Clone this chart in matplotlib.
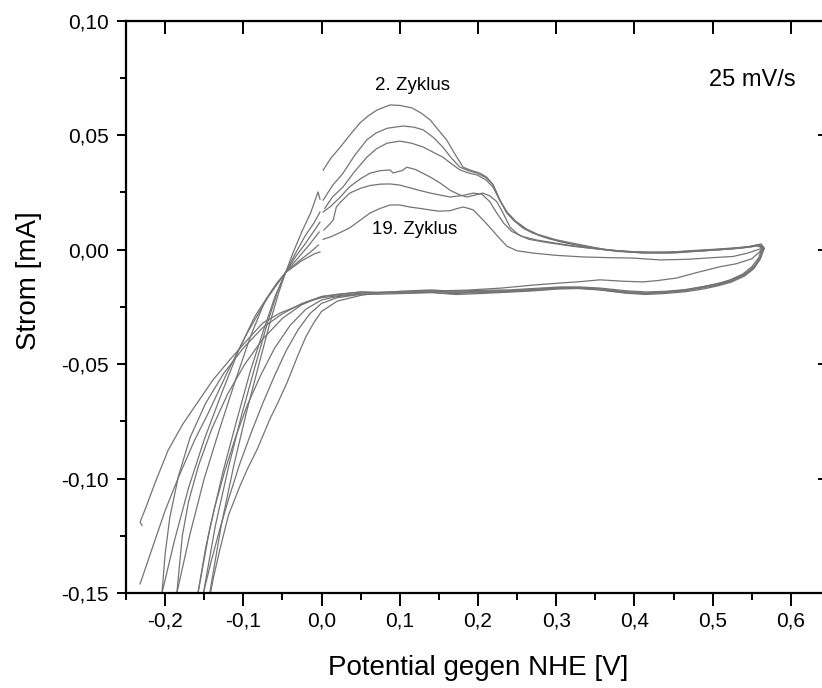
import matplotlib
matplotlib.use("Agg")
import matplotlib.pyplot as plt
from matplotlib.ticker import MultipleLocator, FuncFormatter

plt.rcParams['font.family'] = ['Liberation Sans', 'DejaVu Sans']

# anodic sweep, lower part (from negative limit up to ~0 V), cycles 1..6
al1_x = [-0.143, -0.128, -0.112, -0.096, -0.080, -0.066, -0.055, -0.046, -0.036, -0.025, -0.014, -0.0045, -0.002]
al1_y = [-0.150, -0.120, -0.094, -0.071, -0.050, -0.032, -0.019, -0.010, -0.001, 0.008, 0.016, 0.0252, 0.022]
al2_x = [-0.151, -0.136, -0.119, -0.102, -0.085, -0.070, -0.057, -0.046, -0.034, -0.021, -0.010, -0.002]
al2_y = [-0.150, -0.121, -0.095, -0.072, -0.051, -0.033, -0.019, -0.010, -0.002, 0.006, 0.0115, 0.0164]
al3_x = [-0.158, -0.143, -0.126, -0.108, -0.091, -0.074, -0.059, -0.046, -0.033, -0.020, -0.010, -0.002]
al3_y = [-0.150, -0.122, -0.097, -0.074, -0.053, -0.035, -0.020, -0.010, -0.003, 0.003, 0.008, 0.012]
al4_x = [-0.185, -0.168, -0.150, -0.130, -0.110, -0.091, -0.073, -0.058, -0.046, -0.031, -0.016, -0.003]
al4_y = [-0.150, -0.124, -0.100, -0.078, -0.057, -0.038, -0.023, -0.015, -0.010, -0.004, 0.002, 0.0077]
al5_x = [-0.204, -0.188, -0.170, -0.150, -0.128, -0.106, -0.085, -0.064, -0.046, -0.029, -0.014, -0.004]
al5_y = [-0.150, -0.127, -0.104, -0.083, -0.063, -0.044, -0.029, -0.018, -0.010, -0.005, -0.001, 0.002]
al6_x = [-0.232, -0.217, -0.200, -0.183, -0.162, -0.145, -0.121, -0.096, -0.069, -0.046, -0.026, -0.010, -0.002]
al6_y = [-0.146, -0.131, -0.114, -0.0995, -0.083, -0.0715, -0.054, -0.037, -0.021, -0.010, -0.005, -0.002, -0.001]

# anodic sweep, upper part (0 V up to the turning point)
ar1_x = [0.002, 0.012, 0.024, 0.036, 0.049, 0.060, 0.071, 0.0875, 0.100, 0.1157, 0.128, 0.139, 0.150, 0.160, 0.170,
         0.181, 0.192, 0.2025, 0.211, 0.219, 0.228, 0.236, 0.245, 0.257, 0.270, 0.290, 0.314, 0.345, 0.378, 0.410,
         0.441, 0.475, 0.505, 0.530, 0.548, 0.558, 0.565]
ar1_y = [0.0347, 0.040, 0.0448, 0.050, 0.0553, 0.0585, 0.061, 0.0632, 0.063, 0.0619, 0.0595, 0.0566, 0.052, 0.0479, 0.042,
         0.036, 0.0345, 0.0334, 0.0317, 0.0285, 0.0217, 0.0165, 0.013, 0.0095, 0.0072, 0.0048, 0.0029, 0.0008, -0.0008, -0.0013,
         -0.0012, -0.0004, 0.0002, 0.0008, 0.0014, 0.0022, 0.0010]
ar2_x = [0.002, 0.014, 0.0275, 0.042, 0.058, 0.070, 0.0837, 0.104, 0.118, 0.130, 0.143, 0.155, 0.166, 0.177, 0.188,
         0.199, 0.210, 0.219, 0.228, 0.237, 0.247, 0.260, 0.275, 0.300, 0.330, 0.360, 0.400, 0.440, 0.480, 0.510,
         0.535, 0.552, 0.562, 0.566]
ar2_y = [0.0216, 0.028, 0.0334, 0.041, 0.048, 0.051, 0.053, 0.054, 0.0535, 0.0523, 0.049, 0.0448, 0.040, 0.036, 0.0345,
         0.0334, 0.0315, 0.0285, 0.0215, 0.016, 0.0125, 0.0092, 0.0068, 0.0043, 0.0022, 0.0002, -0.0012, -0.0014, -0.0006, 0.0,
         0.0006, 0.0016, 0.0025, 0.0005]
ar3_x = [0.004, 0.014, 0.0275, 0.042, 0.058, 0.070, 0.0837, 0.100, 0.115, 0.130, 0.143, 0.155, 0.166, 0.177, 0.188,
         0.199, 0.210, 0.219, 0.228, 0.237, 0.248, 0.262, 0.280, 0.305, 0.335, 0.370, 0.410, 0.450, 0.490, 0.520,
         0.545, 0.560, 0.564]
ar3_y = [0.0180, 0.023, 0.0274, 0.034, 0.0404, 0.0440, 0.0465, 0.0474, 0.0465, 0.0448, 0.0425, 0.0404, 0.0375, 0.0348, 0.0335,
         0.0326, 0.0305, 0.0274, 0.0215, 0.0165, 0.0125, 0.009, 0.006, 0.0035, 0.0015, -0.0003, -0.0015, -0.0015, -0.0005, 0.0003,
         0.0010, 0.0018, 0.0]
ar4_x = [0.002, 0.012, 0.024, 0.036, 0.050, 0.062, 0.075, 0.0875, 0.0914, 0.097, 0.103, 0.109, 0.120, 0.139, 0.152,
         0.164, 0.176, 0.186, 0.196, 0.206, 0.215, 0.224, 0.232, 0.241, 0.252, 0.265, 0.290, 0.320, 0.360, 0.400,
         0.440, 0.480, 0.515, 0.540, 0.556, 0.563]
ar4_y = [0.0164, 0.019, 0.023, 0.0275, 0.0310, 0.0334, 0.0345, 0.0348, 0.0335, 0.0340, 0.0345, 0.0360, 0.0350, 0.0317, 0.0290,
         0.0260, 0.0240, 0.0230, 0.0238, 0.0247, 0.0235, 0.0210, 0.0160, 0.0098, 0.0065, 0.0045, 0.0030, 0.0015, 0.0, -0.0010,
         -0.0012, -0.0005, 0.0003, 0.0010, 0.0018, 0.0008]
ar5_x = [0.003, 0.010, 0.015, 0.017, 0.019, 0.025, 0.036, 0.050, 0.062, 0.075, 0.0875, 0.100, 0.113, 0.126, 0.139,
         0.152, 0.164, 0.180, 0.194, 0.205, 0.215, 0.224, 0.233, 0.243, 0.256, 0.275, 0.300, 0.335, 0.375, 0.420,
         0.460, 0.500, 0.530, 0.550, 0.562, 0.565]
ar5_y = [0.0086, 0.011, 0.0130, 0.0160, 0.0187, 0.021, 0.0247, 0.0268, 0.0280, 0.0286, 0.0287, 0.0282, 0.027, 0.0258, 0.0247,
         0.0238, 0.0230, 0.0236, 0.0247, 0.0242, 0.0210, 0.0160, 0.0115, 0.0080, 0.0058, 0.0042, 0.0028, 0.0010, -0.0005, -0.0012,
         -0.0010, -0.0003, 0.0005, 0.0013, 0.0020, 0.0]
ar6_x = [0.002, 0.011, 0.024, 0.036, 0.050, 0.062, 0.075, 0.0875, 0.100, 0.113, 0.126, 0.139, 0.150, 0.164, 0.174,
         0.181, 0.188, 0.194, 0.205, 0.215, 0.226, 0.237, 0.250, 0.270, 0.300, 0.334, 0.366, 0.398, 0.433, 0.470,
         0.500, 0.526, 0.545, 0.558, 0.563]
ar6_y = [0.0045, 0.0055, 0.0075, 0.0095, 0.013, 0.016, 0.018, 0.0195, 0.0195, 0.0186, 0.018, 0.0173, 0.0168, 0.0170, 0.0180,
         0.0186, 0.0180, 0.0173, 0.0135, 0.0098, 0.0055, 0.0015, -0.0005, -0.0015, -0.0025, -0.0032, -0.0035, -0.0037, -0.0045, -0.0042,
         -0.0035, -0.0030, -0.0015, 0.0, 0.0005]

# cathodic sweep (turning point back to the negative limit)
c1_x = [0.565, 0.562, 0.555, 0.544, 0.525, 0.509, 0.490, 0.467, 0.440, 0.416, 0.390, 0.356, 0.330, 0.305, 0.270,
        0.240, 0.200, 0.170, 0.140, 0.100, 0.070, 0.050, 0.020, 0.000, -0.010, -0.020, -0.030, -0.044, -0.056, -0.066,
        -0.082, -0.095, -0.104, -0.119, -0.130, -0.138, -0.142]
c1_y = [0.0010, -0.0030, -0.0065, -0.0100, -0.0130, -0.0146, -0.0160, -0.0174, -0.0182, -0.0185, -0.0180, -0.0168, -0.0163, -0.0163, -0.0170,
        -0.0176, -0.0178, -0.0182, -0.0176, -0.0182, -0.0190, -0.0200, -0.0225, -0.027, -0.032, -0.038, -0.046, -0.058, -0.067, -0.074,
        -0.087, -0.096, -0.103, -0.116, -0.131, -0.143, -0.150]
c2_x = [0.566, 0.561, 0.553, 0.540, 0.522, 0.505, 0.485, 0.462, 0.440, 0.412, 0.385, 0.356, 0.325, 0.300, 0.268,
        0.235, 0.200, 0.168, 0.135, 0.100, 0.070, 0.050, 0.020, 0.000, -0.015, -0.030, -0.045, -0.060, -0.075, -0.090,
        -0.105, -0.118, -0.130, -0.141, -0.151]
c2_y = [0.0005, -0.0040, -0.0080, -0.0112, -0.0140, -0.0155, -0.0168, -0.0180, -0.0188, -0.0192, -0.0184, -0.0172, -0.0166, -0.0168, -0.0176,
        -0.0182, -0.0185, -0.0188, -0.0180, -0.0186, -0.0190, -0.0195, -0.0210, -0.0235, -0.028, -0.035, -0.044, -0.055, -0.067, -0.080,
        -0.094, -0.108, -0.122, -0.136, -0.150]
c3_x = [0.564, 0.560, 0.552, 0.541, 0.524, 0.507, 0.488, 0.465, 0.438, 0.414, 0.388, 0.355, 0.328, 0.303, 0.272,
        0.238, 0.202, 0.172, 0.142, 0.102, 0.070, 0.050, 0.020, 0.000, -0.020, -0.040, -0.060, -0.078, -0.095, -0.110,
        -0.124, -0.137, -0.148, -0.158]
c3_y = [0.0000, -0.0045, -0.0085, -0.0115, -0.0142, -0.0158, -0.0172, -0.0184, -0.0192, -0.0196, -0.0190, -0.0176, -0.0170, -0.0172, -0.0180,
        -0.0186, -0.0192, -0.0196, -0.0188, -0.0192, -0.0195, -0.0195, -0.0205, -0.0220, -0.026, -0.033, -0.043, -0.055, -0.068, -0.082,
        -0.097, -0.113, -0.130, -0.150]
c4_x = [0.563, 0.559, 0.550, 0.538, 0.520, 0.503, 0.483, 0.460, 0.436, 0.410, 0.383, 0.352, 0.326, 0.300, 0.266,
        0.232, 0.198, 0.166, 0.138, 0.100, 0.070, 0.050, 0.020, 0.000, -0.025, -0.050, -0.075, -0.098, -0.120, -0.140,
        -0.157, -0.170, -0.178, -0.185]
c4_y = [0.0008, -0.0035, -0.0075, -0.0108, -0.0136, -0.0152, -0.0165, -0.0178, -0.0186, -0.0190, -0.0186, -0.0174, -0.0168, -0.0170, -0.0178,
        -0.0185, -0.0188, -0.0192, -0.0186, -0.0190, -0.0188, -0.0185, -0.0195, -0.0205, -0.024, -0.030, -0.039, -0.050, -0.063, -0.078,
        -0.094, -0.110, -0.125, -0.150]
c5_x = [0.565, 0.560, 0.552, 0.540, 0.523, 0.506, 0.487, 0.464, 0.438, 0.413, 0.387, 0.354, 0.327, 0.302, 0.270,
        0.236, 0.200, 0.170, 0.140, 0.100, 0.070, 0.050, 0.000, -0.025, -0.050, -0.075, -0.100, -0.125, -0.148, -0.168,
        -0.183, -0.194, -0.200, -0.204]
c5_y = [0.0012, -0.0038, -0.0078, -0.0110, -0.0138, -0.0154, -0.0166, -0.0180, -0.0188, -0.0190, -0.0184, -0.0172, -0.0166, -0.0166, -0.0174,
        -0.0180, -0.0182, -0.0186, -0.0180, -0.0184, -0.0186, -0.0185, -0.0205, -0.0235, -0.028, -0.034, -0.043, -0.054, -0.067, -0.082,
        -0.099, -0.117, -0.133, -0.150]
c6_x = [0.563, 0.560, 0.550, 0.530, 0.509, 0.480, 0.454, 0.430, 0.411, 0.385, 0.356, 0.330, 0.305, 0.270, 0.230,
        0.186, 0.150, 0.100, 0.050, 0.000, -0.011, -0.030, -0.053, -0.075, -0.095, -0.117, -0.139, -0.159, -0.177, -0.196,
        -0.213, -0.225, -0.232, -0.2295]
c6_y = [0.0005, -0.0010, -0.0040, -0.0062, -0.0075, -0.0100, -0.0124, -0.0135, -0.0141, -0.0138, -0.0132, -0.0140, -0.0146, -0.0155, -0.0168,
        -0.0177, -0.0180, -0.0185, -0.0190, -0.0210, -0.0220, -0.0245, -0.0277, -0.0320, -0.0395, -0.048, -0.057, -0.067, -0.076, -0.0875,
        -0.102, -0.113, -0.119, -0.1205]

lower_anodic = [(al1_x, al1_y), (al2_x, al2_y), (al3_x, al3_y), (al4_x, al4_y), (al5_x, al5_y), (al6_x, al6_y)]
upper_anodic = [(ar1_x, ar1_y), (ar2_x, ar2_y), (ar3_x, ar3_y), (ar4_x, ar4_y), (ar5_x, ar5_y), (ar6_x, ar6_y)]
cathodic = [(c1_x, c1_y), (c2_x, c2_y), (c3_x, c3_y), (c4_x, c4_y), (c5_x, c5_y), (c6_x, c6_y)]

fig = plt.figure(figsize=(8.22, 6.88), dpi=100)
# the original image is cut off on the right, so the axes run past the figure edge
ax = fig.add_axes([0.1533, 0.1381, 0.8564, 0.8318])

for xs, ys in lower_anodic + upper_anodic + cathodic:
    ax.plot(xs, ys, color='#747474', lw=0.9, solid_joinstyle='round')

ax.set_xlim(-0.25, 0.65)
ax.set_ylim(-0.15, 0.10)

comma = FuncFormatter(lambda v, p: ('%.1f' % v).replace('.', ','))
comma2 = FuncFormatter(lambda v, p: ('%.2f' % v).replace('.', ','))
ax.xaxis.set_major_locator(MultipleLocator(0.1))
ax.xaxis.set_minor_locator(MultipleLocator(0.05))
ax.yaxis.set_major_locator(MultipleLocator(0.05))
ax.yaxis.set_minor_locator(MultipleLocator(0.025))
ax.xaxis.set_major_formatter(comma)
ax.yaxis.set_major_formatter(comma2)

ax.tick_params(axis='x', which='major', direction='out', length=9, width=1.4, labelsize=15, pad=4)
ax.tick_params(axis='x', which='minor', direction='out', length=5, width=1.4)
ax.tick_params(axis='y', which='major', direction='out', length=6.5, width=1.4, labelsize=15, pad=6)
ax.tick_params(axis='y', which='minor', direction='out', length=4.5, width=1.4)

for s in ax.spines.values():
    s.set_linewidth(1.6)
ax.spines['right'].set_visible(False)

# top and right axes: inward major ticks, no labels
top = ax.secondary_xaxis('top')
top.xaxis.set_major_locator(MultipleLocator(0.1))
top.tick_params(direction='in', length=9, width=1.4, labeltop=False)
right = ax.secondary_yaxis('right')
right.yaxis.set_major_locator(MultipleLocator(0.05))
right.tick_params(direction='in', length=9, width=1.4, labelright=False)
right.spines['right'].set_visible(False)

ax.set_xlabel('Potential gegen NHE [V]', fontsize=20)
ax.set_ylabel('Strom [mA]', fontsize=20)
ax.xaxis.set_label_coords(0.50, -0.108)
ax.yaxis.set_label_coords(-0.119, 0.545)

ax.text(0.1157, 0.0715, '2. Zyklus', fontsize=13.5, ha='center', va='center')
ax.text(0.119, 0.0086, '19. Zyklus', fontsize=13.5, ha='center', va='center')
ax.text(0.551, 0.074, '25 mV/s', fontsize=17, ha='center', va='center')

fig.savefig('out.png', dpi=100)
